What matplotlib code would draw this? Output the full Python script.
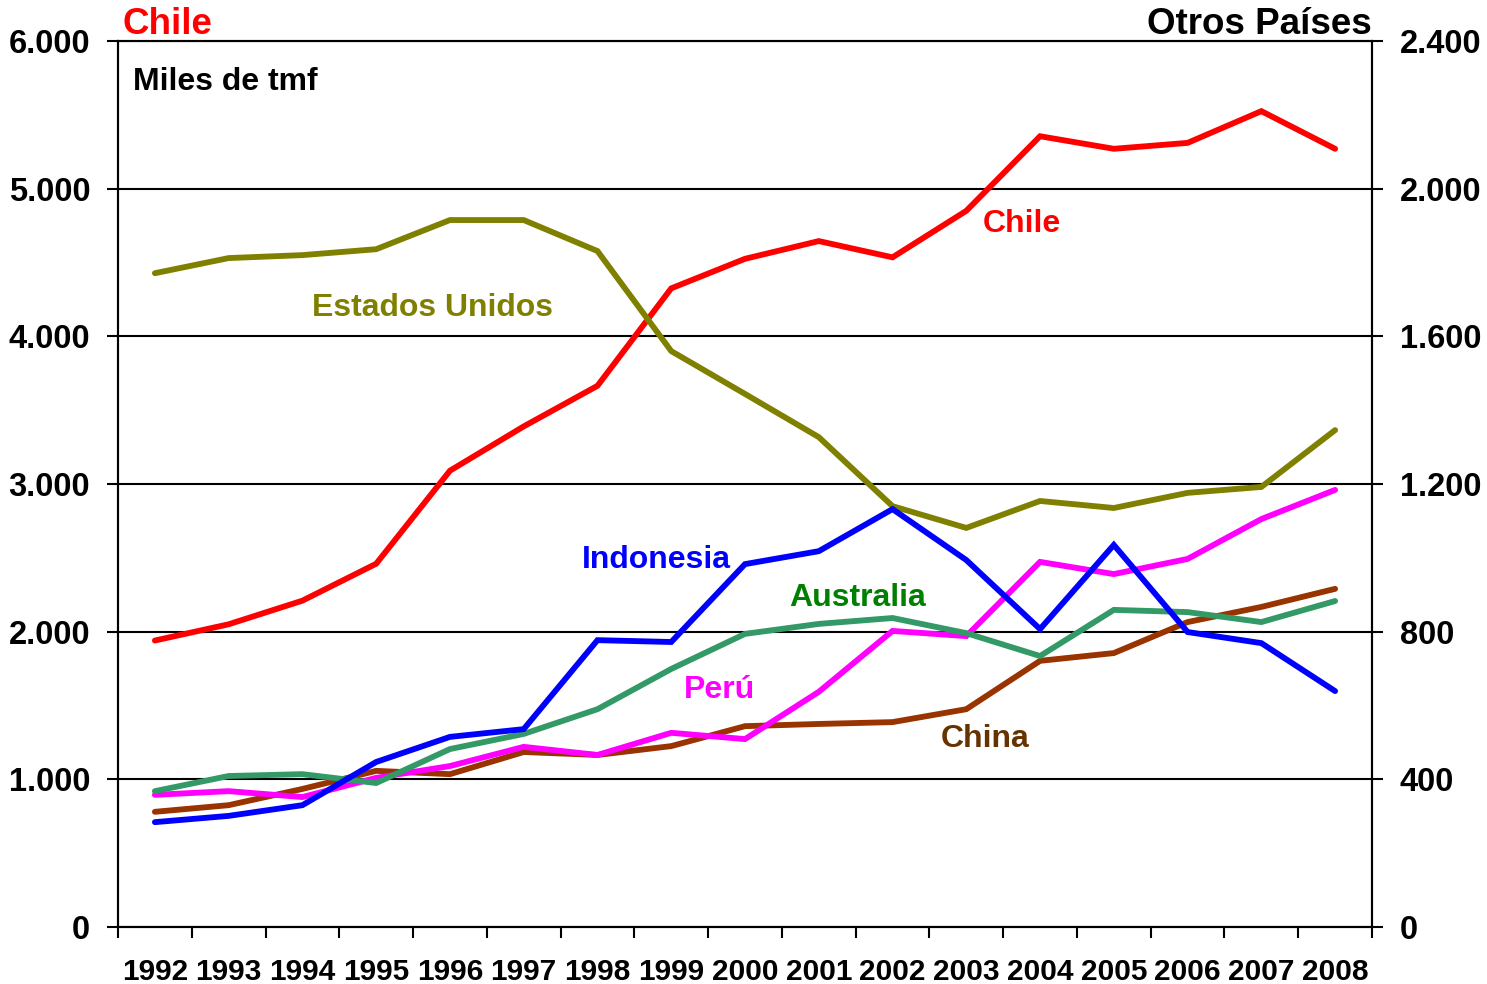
import matplotlib
matplotlib.use("Agg")
import matplotlib.pyplot as plt
from matplotlib.ticker import FuncFormatter

plt.rcParams['font.family'] = ['Liberation Sans', 'DejaVu Sans']
plt.rcParams['font.weight'] = 'bold'

years = [str(y) for y in range(1992, 2009)]

# Chile, left axis (miles de tmf)
chile = [1940, 2050, 2210, 2460, 3090, 3390, 3665, 4325, 4525, 4645,
         4535, 4850, 5355, 5270, 5310, 5525, 5270]

# otros paises, right axis
estados_unidos = [1771, 1812, 1820, 1836, 1915, 1915, 1831, 1560, 1444, 1327,
                  1140, 1081, 1154, 1135, 1176, 1192, 1346]
indonesia = [284, 301, 330, 447, 515, 536, 777, 772, 983, 1018,
             1132, 994, 807, 1035, 799, 769, 639]
australia = [368, 409, 414, 390, 482, 523, 590, 699, 794, 821,
             837, 796, 734, 859, 853, 826, 883]
peru = [358, 368, 352, 404, 436, 488, 466, 526, 509, 637,
        802, 788, 989, 956, 997, 1105, 1184]
china = [312, 330, 374, 423, 414, 474, 466, 490, 544, 550,
         555, 590, 721, 742, 826, 867, 916]

W, H = 1487, 984
fig = plt.figure(figsize=(W / 100, H / 100), dpi=100)
L, R, T, B = 118, 1372, 41, 927
ax = fig.add_axes([L / W, 1 - B / H, (R - L) / W, (B - T) / H])
ax2 = ax.twinx()

x = [i + 0.5 for i in range(len(years))]
lw = 4.2

ax.plot(x, chile, color='#FF0000', lw=lw, solid_capstyle='round', solid_joinstyle='miter', zorder=3)

series = [
    (estados_unidos, '#808000'),
    (china, '#993300'),
    (peru, '#FF00FF'),
    (australia, '#339966'),
    (indonesia, '#0000FF'),
]
for vals, col in series:
    ax2.plot(x, vals, color=col, lw=lw, solid_capstyle='round', solid_joinstyle='miter')

ax.set_xlim(0, len(years))
ax.set_ylim(0, 6000)
ax2.set_ylim(0, 2400)
ax.set_yticks(range(0, 6001, 1000))
ax2.set_yticks(range(0, 2401, 400))

def miles(v, pos):
    return f"{int(v):,}".replace(",", ".")

ax.yaxis.set_major_formatter(FuncFormatter(miles))
ax2.yaxis.set_major_formatter(FuncFormatter(miles))

ax.yaxis.grid(True, color='black', lw=1.5)
ax.set_axisbelow(True)

# category boundaries as ticks, year labels at centres
ax.set_xticks(range(len(years) + 1))
ax.set_xticklabels([])
ax.set_xticks(x, minor=True)
ax.set_xticklabels(years, minor=True)
ax.tick_params(axis='x', which='major', direction='out', length=8, width=1.5)
ax.tick_params(axis='x', which='minor', length=0, pad=22, labelsize=21.5)

ax.tick_params(axis='y', direction='out', length=8, width=1.5, labelsize=23.5, pad=12)
ax2.tick_params(axis='y', direction='out', length=8, width=1.5, labelsize=23.5, pad=12)

for a in (ax, ax2):
    for s in a.spines.values():
        s.set_linewidth(1.5)
        s.set_color('black')

for lab in ax.get_xticklabels(minor=True) + ax.get_yticklabels() + ax2.get_yticklabels():
    lab.set_fontweight('bold')

# series labels
def axfrac(px, py):
    return (px - L) / (R - L), (B - py) / (B - T)

labels = [
    ("Chile", 1022, 224, '#FF0000'),
    ("Estados Unidos", 433, 308, '#808000'),
    ("Indonesia", 656, 560, '#0000FF'),
    ("Australia", 858, 598, '#008000'),
    ("Perú", 720, 690, '#FF00FF'),
    ("China", 985, 739, '#663300'),
]
for txt, px, py, col in labels:
    fx, fy = axfrac(px, py)
    ax2.text(fx, fy, txt, transform=ax2.transAxes, color=col, fontsize=23,
             fontweight='bold', ha='center', va='center')

fx, fy = axfrac(133, 82)
ax2.text(fx, fy, "Miles de tmf", transform=ax2.transAxes, color='black', fontsize=23,
         fontweight='bold', ha='left', va='center')

fig.text(122 / W, 1 - 24 / H, "Chile", color='#FF0000', fontsize=26.5,
         fontweight='bold', ha='left', va='center')
fig.text(1372 / W, 1 - 24 / H, "Otros Países", color='black', fontsize=26.5,
         fontweight='bold', ha='right', va='center')

fig.savefig("out.png", dpi=100)
